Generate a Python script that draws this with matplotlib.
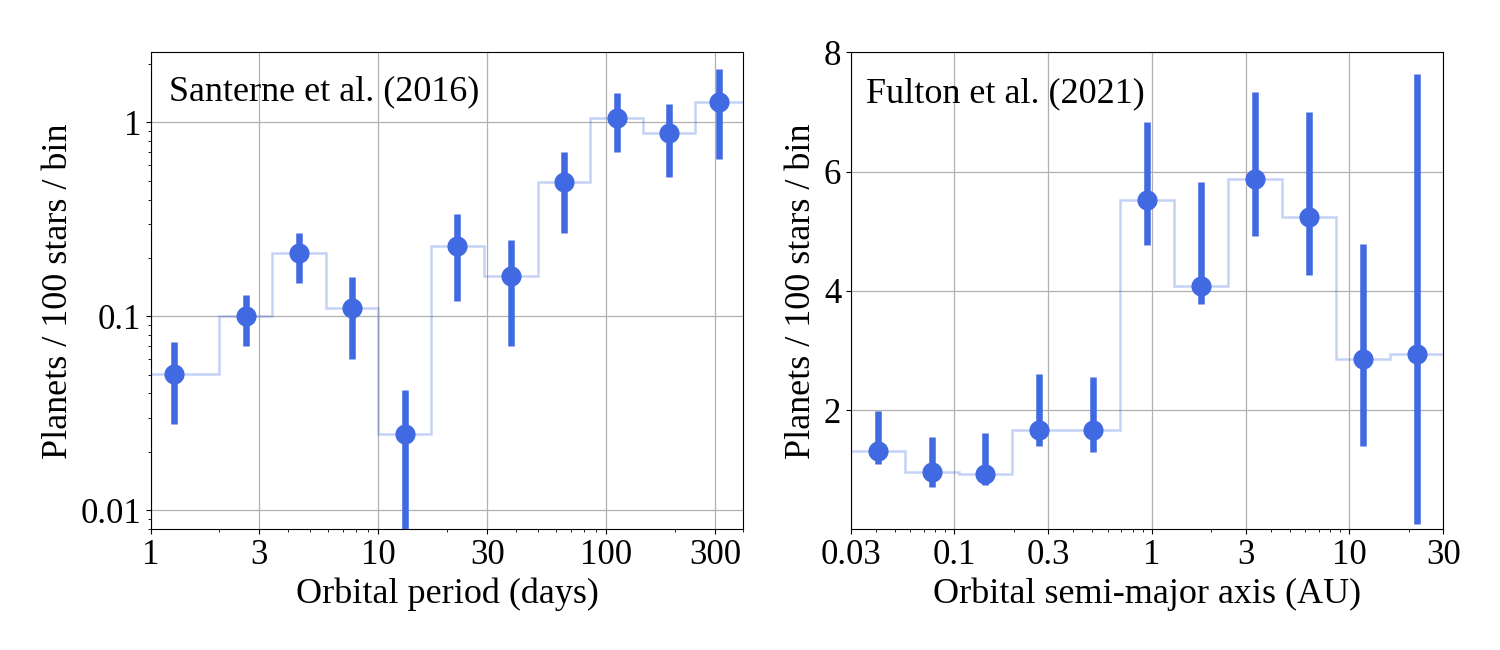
import matplotlib
matplotlib.use("Agg")
import matplotlib.pyplot as plt
import matplotlib.ticker as ticker
import numpy as np

plt.rcParams['font.family'] = ['Liberation Serif', 'DejaVu Serif']
plt.rcParams['font.size'] = 26
plt.rcParams['xtick.labelsize'] = 25
plt.rcParams['ytick.labelsize'] = 25

# --- Santerne et al. (2016): orbital period bins (days) ---
period_edges = [0.8, 2, 3.4, 5.9, 10, 17, 29, 50, 85, 145, 245, 400]
period_centers = [1.265, 2.608, 4.479, 7.681, 13.04, 22.20, 38.08, 65.19, 111.0, 188.5, 313.0]
santerne_rate = [0.0506, 0.100, 0.211, 0.110, 0.0248, 0.230, 0.161, 0.490, 1.049, 0.877, 1.273]
santerne_hi = [0.0737, 0.128, 0.269, 0.160, 0.0415, 0.336, 0.247, 0.706, 1.411, 1.238, 1.886]
santerne_lo = [0.0279, 0.070, 0.149, 0.060, 0.001, 0.1195, 0.070, 0.270, 0.700, 0.524, 0.647]

# --- Fulton et al. (2021): semi-major axis bins (AU) ---
sma_edges = [0.03, 0.0562, 0.1053, 0.1973, 0.3698, 0.6930, 1.2986, 2.4333, 4.5598, 8.544, 16.01, 30]
sma_centers = [0.0411, 0.0769, 0.1441, 0.2701, 0.5062, 0.9487, 1.778, 3.331, 6.242, 11.70, 21.92]
fulton_rate = [1.320, 0.957, 0.929, 1.667, 1.667, 5.527, 4.084, 5.880, 5.236, 2.859, 2.943]
fulton_hi = [1.986, 1.544, 1.611, 2.601, 2.562, 6.831, 5.818, 7.334, 6.999, 4.783, 7.636]
fulton_lo = [1.097, 0.716, 0.744, 1.399, 1.298, 4.772, 3.782, 4.923, 4.263, 1.399, 0.084]

color = 'royalblue'


def draw_panel(ax, edges, centers, rate, lo, hi):
    rate = np.array(rate)
    yerr = [rate - np.array(lo), np.array(hi) - rate]
    ax.stairs(rate, edges, baseline=None, color=color, alpha=0.3, lw=1.8, zorder=2)
    ax.errorbar(centers, rate, yerr=yerr, fmt='o', color=color, ms=14.5,
                mew=0, elinewidth=4.7, capsize=0, zorder=3)
    ax.grid(True, which='major', color='#b0b0b0', lw=0.9, zorder=0)
    ax.set_axisbelow(True)


fig, (ax1, ax2) = plt.subplots(1, 2, figsize=(15, 6.5), dpi=100)
fig.subplots_adjust(left=0.1005, right=0.9623, bottom=0.1855, top=0.9195, wspace=0.1814)

# --- Left: Santerne ---
draw_panel(ax1, period_edges, period_centers, santerne_rate, santerne_lo, santerne_hi)
ax1.set_xscale('log')
ax1.set_yscale('log')
ax1.set_xlim(1, 400)
ax1.set_ylim(0.00795, 2.3)
ax1.set_xticks([1, 3, 10, 30, 100, 300])
ax1.xaxis.set_major_formatter(ticker.FuncFormatter(lambda v, _: f'{v:g}'))
ax1.xaxis.set_minor_formatter(ticker.NullFormatter())
ax1.set_yticks([0.01, 0.1, 1])
ax1.yaxis.set_major_formatter(ticker.FuncFormatter(lambda v, _: f'{v:g}'))
ax1.yaxis.set_minor_formatter(ticker.NullFormatter())
ax1.set_xlabel('Orbital period (days)')
ax1.set_ylabel('Planets / 100 stars / bin')
ax1.text(0.03, 0.90, 'Santerne et al. (2016)', transform=ax1.transAxes, va='baseline')

# --- Right: Fulton ---
draw_panel(ax2, sma_edges, sma_centers, fulton_rate, fulton_lo, fulton_hi)
ax2.set_xscale('log')
ax2.set_xlim(0.03, 30)
ax2.set_ylim(0, 8)
ax2.set_xticks([0.03, 0.1, 0.3, 1, 3, 10, 30])
ax2.xaxis.set_major_formatter(ticker.FuncFormatter(lambda v, _: f'{v:g}'))
ax2.xaxis.set_minor_formatter(ticker.NullFormatter())
ax2.set_yticks([2, 4, 6, 8])
ax2.set_xlabel('Orbital semi-major axis (AU)')
ax2.set_ylabel('Planets / 100 stars / bin')
ax2.text(0.025, 0.896, 'Fulton et al. (2021)', transform=ax2.transAxes, va='baseline')

fig.savefig('out.png', dpi=100)
